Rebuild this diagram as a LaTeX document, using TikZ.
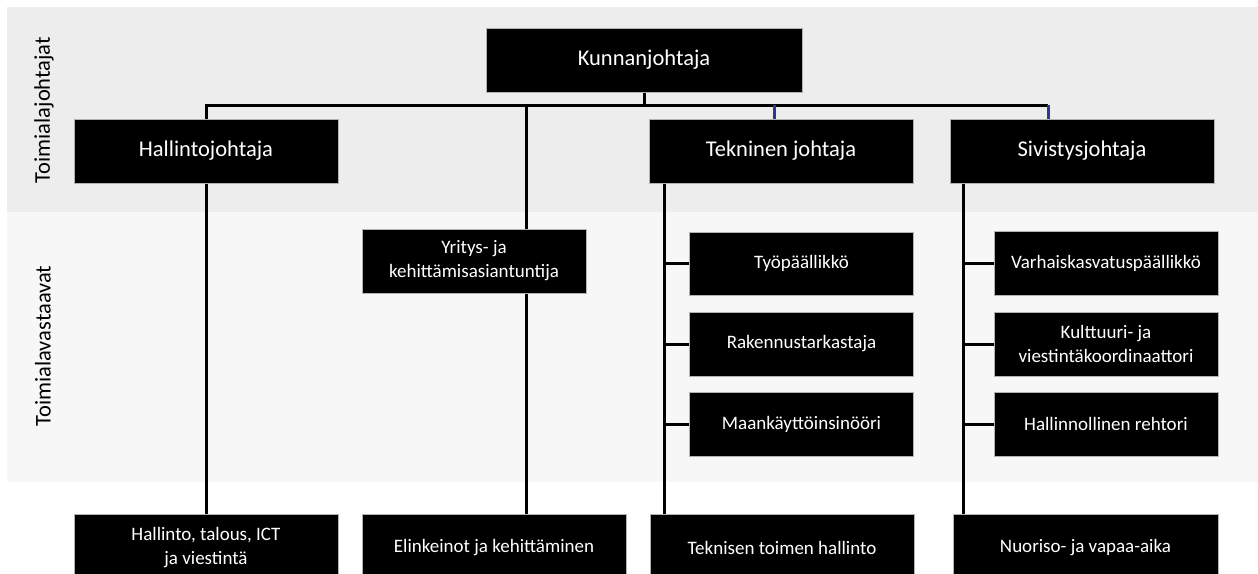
\documentclass[tikz,border=0pt]{standalone}
\usepackage{fontspec}
\setmainfont{Carlito}
\usetikzlibrary{positioning}
\usetikzlibrary{backgrounds}
\definecolor{bandtop}{RGB}{237,237,237}
\definecolor{bandmid}{RGB}{247,247,247}
\definecolor{dropblue}{RGB}{47,56,140}

\tikzset{
  orgbox/.style={draw=gray!60, line width=0.8pt, fill=black, text=white, align=center,
    inner sep=0pt, minimum width=264pt, minimum height=64pt,
    font=\fontsize{22.5}{27}\selectfont},
  subbox/.style={orgbox, minimum width=224pt, font=\fontsize{19}{24}\selectfont},
  basebox/.style={orgbox, minimum height=68pt, font=\fontsize{19}{24}\selectfont},
  bandlabel/.style={rotate=90, font=\fontsize{22.5}{27}\selectfont},
  link/.style={line width=3pt},
}

\begin{document}
\begin{tikzpicture}[x=1pt, y=-1pt]
  \clip (0,0) rectangle (1258,573);

  % toimialajohtajat
  \node (kunta) [orgbox, minimum width=316pt] at (644,60) {Kunnanjohtaja};
  \node (hall) [orgbox] at (206,151) {Hallintojohtaja};
  \node (tek) [orgbox] at (781,151) {Tekninen johtaja};
  \node (siv) [orgbox] at (1082,151) {Sivistysjohtaja};

  % toimialavastaavat
  \node (yri) [subbox] at (474,261) {Yritys- ja\\kehittämisasiantuntija};
  \node (tyo) [subbox, minimum height=63pt] at (801.5,263.5) {Työpäällikkö};
  \node (rak) [subbox] at (801.5,344) {Rakennustarkastaja};
  \node (maa) [subbox] at (801.5,424) {Maankäyttöinsinööri};
  \node (var) [subbox] at (1106,263) {Varhaiskasvatuspäällikkö};
  \node (kul) [subbox] at (1106,344) {Kulttuuri- ja\\viestintäkoordinaattori};
  \node (reh) [subbox] at (1106,424) {Hallinnollinen rehtori};

  % tulosalueet
  \node (hali) [basebox] at (206,548) {Hallinto, talous, ICT\\ja viestintä};
  \node (elin) [basebox] at (494,548) {Elinkeinot ja kehittäminen};
  \node (teks) [basebox] at (782,548) {Teknisen toimen hallinto};
  \node (nuor) [basebox, minimum width=265pt] at (1085.5,548) {Nuoriso- ja vapaa-aika};

  \node (lblJ) [bandlabel] at (44,110) {Toimialajohtajat};
  \node (lblV) [bandlabel] at (43,346) {Toimialavastaavat};

  \coordinate (barR) at (1048,105);
  \coordinate (tekdrop) at (774,105);
  \coordinate (midtop) at (526,105);
  \coordinate (tekL) at (664,0);
  \coordinate (sivL) at (963,0);

  \begin{pgfonlayer}{background}
    \fill[bandtop] (7,7) rectangle (1258,212);
    \fill[bandmid] (7,212) rectangle (1258,482);

    \draw[link] (kunta.south) -- (kunta.south |- barR);
    \draw[link] (hall.north) |- (barR);
    \draw[link, dropblue] (tekdrop) -- (tekdrop |- tek.north);
    \draw[link, dropblue] (barR) -- (barR |- siv.north);
    \draw[link] (midtop) -- (midtop |- elin.north);
    \draw[link] (hall.south) -- (hali.north);

    \draw[link] (tekL |- tek.south) -- (tekL |- teks.north);
    \draw[link] (tekL |- tyo.west) -- (tyo.west);
    \draw[link] (tekL |- rak.west) -- (rak.west);
    \draw[link] (tekL |- maa.west) -- (maa.west);

    \draw[link] (sivL |- siv.south) -- (sivL |- nuor.north);
    \draw[link] (sivL |- var.west) -- (var.west);
    \draw[link] (sivL |- kul.west) -- (kul.west);
    \draw[link] (sivL |- reh.west) -- (reh.west);
  \end{pgfonlayer}
\end{tikzpicture}
\end{document}
